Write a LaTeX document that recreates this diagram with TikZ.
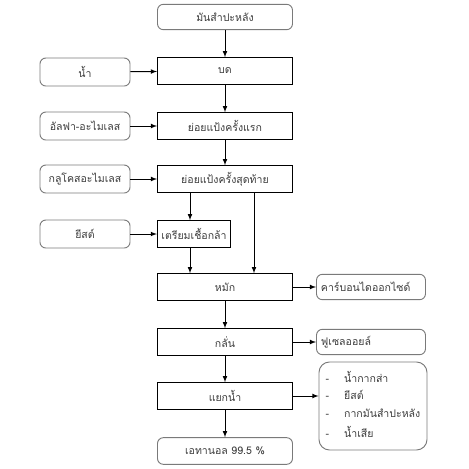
\documentclass[tikz,border=0pt]{standalone}
\usepackage{fontspec}
\newfontfamily\thaifont[Script=Thai]{Loma}
\definecolor{textgray}{HTML}{3C3C3C}
\definecolor{edgegray}{HTML}{7A7A7A}

\begin{document}
\begin{tikzpicture}[x=0.03cm,y=-0.03cm,font=\thaifont\fontsize{9}{11}\selectfont,text=textgray,
    stepbox/.style={draw=black,line width=0.8pt,minimum width=4.05cm,minimum height=0.8cm,inner sep=1pt},
    inbox/.style={draw=edgegray,line width=0.8pt,rounded corners=5pt,minimum width=2.7cm,minimum height=0.84cm,inner sep=1pt},
    outbox/.style={draw=edgegray,line width=0.8pt,rounded corners=5pt,minimum width=3.27cm,minimum height=0.76cm,inner sep=1pt,text width=3.0cm,align=left},
    flow/.style={-latex,line width=0.8pt}]
    \useasboundingbox (0,0) rectangle (469,469);

    % main line
    \node[stepbox,draw=edgegray,rounded corners=5pt,minimum height=0.76cm] (cassava) at (225,17) {มันสำปะหลัง};
    \foreach \name/\y/\txt in {grind/71/บด, first/126/ย่อยแป้งครั้งแรก, last/179/ย่อยแป้งครั้งสุดท้าย,
                               ferment/287/หมัก, distil/342/กลั่น, dewater/396/แยกน้ำ} {
        \node[stepbox] (\name) at (225,\y) {\txt};
    }
    \node[stepbox,minimum width=2.2cm] (starter) at (194,234) {เตรียมเชื้อกล้า};
    \node[stepbox,draw=edgegray,rounded corners=5pt] (ethanol) at (225,451) {เอทานอล 99.5 \%};

    % inputs
    \foreach \name/\y/\txt in {water/72/น้ำ, alpha/126/อัลฟา-อะไมเลส, gluco/179/กลูโคสอะไมเลส, yeast/234/ยีสต์} {
        \node[inbox] (\name) at (85,\y) {\txt};
    }

    % outputs
    \node[outbox] (cotwo) at (371,287) {คาร์บอนไดออกไซด์};
    \node[outbox] (fusel) at (371,342) {ฟูเซลออยล์};
    \node[draw=edgegray,line width=0.8pt,rounded corners=9pt,minimum width=3.24cm,minimum height=2.64cm,inner sep=1pt] (waste) at (373,406) {%
        \begin{tabular}{@{}l@{\hspace{4.5mm}}l@{}}
            - & น้ำกากส่า\\[4pt]
            - & ยีสต์\\[4pt]
            - & กากมันสำปะหลัง\\[4pt]
            - & น้ำเสีย
        \end{tabular}};

    \coordinate (leftline) at (190,0);
    \coordinate (rightline) at (254,0);

    % arrows
    \draw[flow] (cassava) -- (grind);
    \draw[flow] (grind) -- (first);
    \draw[flow] (first) -- (last);
    \draw[flow] (last.south -| leftline) -- (starter.north -| leftline);
    \draw[flow] (starter.south -| leftline) -- (ferment.north -| leftline);
    \draw[flow] (last.south -| rightline) -- (ferment.north -| rightline);
    \draw[flow] (ferment) -- (distil);
    \draw[flow] (distil) -- (dewater);
    \draw[flow] (dewater) -- (ethanol);
    \foreach \src/\dst in {water/grind, alpha/first, gluco/last, yeast/starter} {
        \draw[flow] (\src) -- (\dst);
    }
    \draw[flow] (ferment) -- (cotwo);
    \draw[flow] (distil) -- (fusel);
    \draw[flow] (dewater.east) -- (dewater.east -| waste.west);
\end{tikzpicture}
\end{document}
